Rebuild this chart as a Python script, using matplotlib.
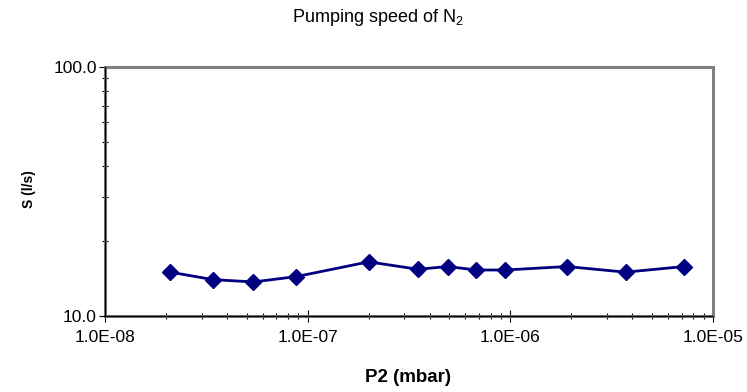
import numpy as np
import matplotlib
matplotlib.use("Agg")
import matplotlib.pyplot as plt
from matplotlib.ticker import FixedLocator, FuncFormatter, NullFormatter

plt.rcParams['font.family'] = ['Liberation Sans', 'DejaVu Sans']
plt.rcParams['mathtext.fontset'] = 'custom'
plt.rcParams['mathtext.rm'] = 'Liberation Sans'
plt.rcParams['mathtext.default'] = 'regular'

# pressure P2 (mbar) and pumping speed S (l/s)
p2 = [2.1e-8, 3.4e-8, 5.4e-8, 8.8e-8, 2.0e-7, 3.5e-7, 4.9e-7,
      6.8e-7, 9.4e-7, 1.9e-6, 3.7e-6, 7.2e-6]
speed = [15.0, 14.0, 13.7, 14.4, 16.5, 15.4, 15.8,
         15.3, 15.3, 15.8, 15.0, 15.8]

x_major = [1e-8, 1e-7, 1e-6, 1e-5]
y_major = [10, 100]

fig = plt.figure(figsize=(7.47, 3.92), dpi=100)
ax = fig.add_axes([0.1406, 0.1939, 0.8139, 0.6352])

ax.plot(p2, speed, color='#000080', lw=2, marker='D', markersize=8.5,
        markeredgecolor='#000080', zorder=3, clip_on=False)

ax.set_xscale('log')
ax.set_yscale('log')
ax.set_xlim(1e-8, 1e-5)
ax.set_ylim(10, 100)

ax.xaxis.set_major_locator(FixedLocator(x_major))
ax.xaxis.set_minor_locator(FixedLocator(
    [m * 10.0**e for e in range(-8, -5) for m in range(2, 10)]))
ax.xaxis.set_major_formatter(FuncFormatter(lambda v, p: '%.1E' % v))
ax.xaxis.set_minor_formatter(NullFormatter())

ax.yaxis.set_major_locator(FixedLocator(y_major))
ax.yaxis.set_minor_locator(FixedLocator(range(20, 100, 10)))
ax.yaxis.set_major_formatter(FuncFormatter(lambda v, p: '%.1f' % v))
ax.yaxis.set_minor_formatter(NullFormatter())

ax.tick_params(axis='both', which='major', direction='inout', length=8,
               width=0.8, color='black', labelsize=12.5)
ax.tick_params(axis='both', which='minor', direction='inout', length=5,
               width=0.8, color='black')
ax.tick_params(axis='x', which='major', pad=6)
ax.tick_params(axis='y', which='major', pad=2)

for s in ax.spines.values():
    s.set_color('#808080')
    s.set_linewidth(2.2)

# black axis lines over the grey frame
ax.plot([-0.004, 1], [0, 0], transform=ax.transAxes, color='black',
        lw=0.9, clip_on=False, zorder=4)
ax.plot([0, 0], [0, 1], transform=ax.transAxes, color='black',
        lw=0.9, clip_on=False, zorder=4)

fig.text(378 / 747, 1 - 18 / 392, 'Pumping speed of N$_2$', ha='center',
         va='center', fontsize=13)
fig.text(408 / 747, 1 - 378 / 392, 'P2 (mbar)', ha='center', va='center',
         fontsize=13.5, fontweight='bold')
fig.text(29 / 747, 1 - 189 / 392, 'S (l/s)', rotation=90, ha='center',
         va='center', fontsize=10, fontweight='bold')

fig.savefig('out.png', dpi=100)
